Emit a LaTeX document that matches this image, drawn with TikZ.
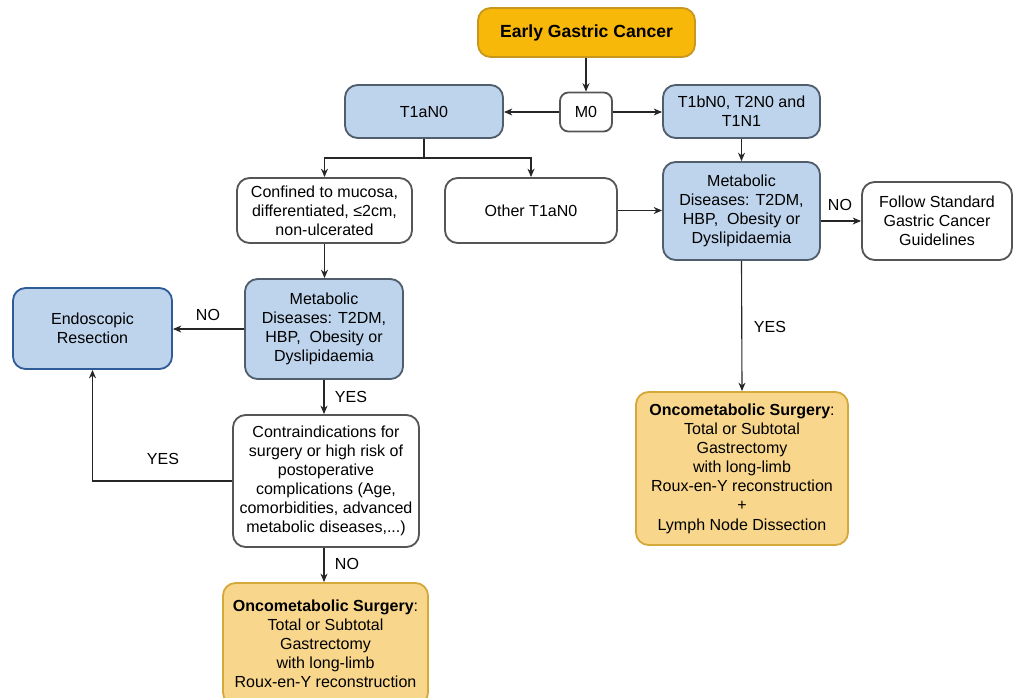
\documentclass[tikz,border=0pt]{standalone}
\usepackage{fontspec}
\setmainfont{Liberation Sans}
\usetikzlibrary{arrows.meta}

\definecolor{egcfill}{HTML}{F7B80A}
\definecolor{egcline}{HTML}{C8981E}
\definecolor{bluefill}{HTML}{BED4EC}
\definecolor{blueline}{HTML}{505D6C}
\definecolor{endoline}{HTML}{2F5C96}
\definecolor{surgfill}{HTML}{F8D78C}
\definecolor{surgline}{HTML}{D5A83A}
\definecolor{greyline}{HTML}{555555}

\tikzset{
  box/.style={rounded corners=9pt, line width=1.3pt, align=center,
    font=\fontsize{11.4}{13.6}\selectfont, inner sep=2pt},
  whitebox/.style={box, draw=greyline, fill=white},
  bluebox/.style={box, draw=blueline, fill=bluefill},
  surgbox/.style={box, draw=surgline, fill=surgfill},
  link/.style={-{Stealth[length=6pt,width=5pt]}, line width=0.8pt, draw=black!85},
  lbl/.style={font=\fontsize{11.4}{13}\selectfont, inner sep=1pt}
}

\begin{document}
\begin{tikzpicture}[x=0.025cm,y=-0.025cm]
  \useasboundingbox (0,0) rectangle (1017,697);

  % top row
  \node[box, draw=egcline, fill=egcfill, font=\fontsize{12.5}{15}\selectfont\bfseries,
        minimum width=5.425cm, minimum height=1.225cm] (egc) at (586.5,32.5) {Early Gastric Cancer};
  \node[whitebox, rounded corners=6pt, minimum width=1.3cm, minimum height=0.975cm] (m0) at (586,112) {M0};
  \node[bluebox, minimum width=3.95cm, minimum height=1.325cm] (t1a) at (424,111.5) {T1aN0};
  \node[bluebox, minimum width=3.925cm, minimum height=1.325cm] (t1b) at (741.5,111.5) {T1bN0, T2N0 and\\T1N1};

  % second row
  \node[whitebox, minimum width=4.375cm, minimum height=1.625cm] (conf) at (324.5,210.5)
    {Confined to mucosa,\\differentiated, \char"2264 2cm,\\non-ulcerated};
  \node[whitebox, minimum width=4.3cm, minimum height=1.625cm] (other) at (531,210.5) {Other T1aN0};
  \node[bluebox, minimum width=3.925cm, minimum height=2.45cm] (metr) at (741.5,211)
    {Metabolic\\Diseases: T2DM,\\HBP,\ \ Obesity or\\Dyslipidaemia};
  \node[whitebox, minimum width=3.75cm, minimum height=1.95cm] (follow) at (937,221)
    {Follow Standard\\Gastric Cancer\\Guidelines};

  % left branch
  \node[bluebox, draw=endoline, minimum width=3.975cm, minimum height=2.025cm] (endo) at (92.5,328.5)
    {Endoscopic\\Resection};
  \node[bluebox, minimum width=3.95cm, minimum height=2.5cm] (metl) at (324,329)
    {Metabolic\\Diseases: T2DM,\\HBP,\ \ Obesity or\\Dyslipidaemia};
  \node[whitebox, minimum width=4.65cm, minimum height=3.3cm] (contra) at (326,481)
    {Contraindications for\\surgery or high risk of\\postoperative\\complications (Age,\\comorbidities, advanced\\metabolic diseases,...)};
  \node[surgbox, minimum width=5.125cm, minimum height=3.05cm] (surgl) at (325.5,644)
    {\textbf{Oncometabolic Surgery}:\\Total or Subtotal\\Gastrectomy\\with long-limb\\Roux-en-Y reconstruction};

  % right branch
  \node[surgbox, minimum width=5.3cm, minimum height=3.825cm] (surgr) at (742,468.5)
    {\textbf{Oncometabolic Surgery}:\\Total or Subtotal\\Gastrectomy\\with long-limb\\Roux-en-Y reconstruction\\+\\Lymph Node Dissection};

  % connectors
  \draw[link] (egc.south -| m0.north) -- (m0.north);
  \draw[link] (m0.west) -- (m0.west -| t1a.east);
  \draw[link] (m0.east) -- (m0.east -| t1b.west);
  \coordinate (split) at (424,158);
  \draw[line width=0.8pt, draw=black!85] (t1a.south) -- (split);
  \draw[link] (split) -| (conf.north);
  \draw[link] (split) -| (other.north);
  \draw[link] (t1b.south) -- (metr.north);
  \draw[link] (other.east) -- (other.east -| metr.west);
  \draw[link] (follow.west -| metr.east) -- (follow.west);
  \draw[link] (metr.south) -- (surgr.north);
  \draw[link] (conf.south) -- (conf.south |- metl.north);
  \draw[link] (metl.west) -- (metl.west -| endo.east);
  \draw[link] (metl.south) -- (metl.south |- contra.north);
  \draw[link] (contra.west) -| (endo.south);
  \draw[link] (metl.south |- contra.south) -- (metl.south |- surgl.north);

  % labels
  \node[lbl] (nor) at (840,205) {NO};
  \node[lbl] (yesr) at (770,327) {YES};
  \node[lbl] (nol) at (208,315) {NO};
  \node[lbl] (yesl) at (351,397) {YES};
  \node[lbl] (yesc) at (163,459) {YES};
  \node[lbl] (noc) at (347,564) {NO};
\end{tikzpicture}
\end{document}
